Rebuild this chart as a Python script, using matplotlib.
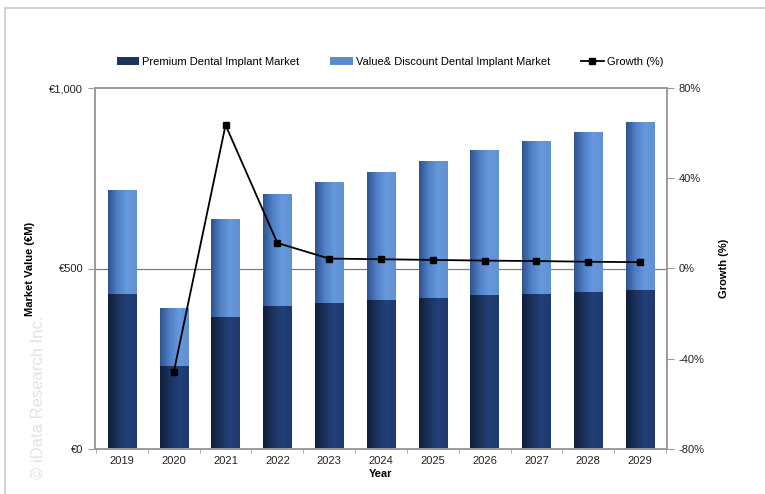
import matplotlib
matplotlib.use('Agg')
import matplotlib.pyplot as plt
import numpy as np
from matplotlib.colors import LinearSegmentedColormap
from matplotlib.ticker import FuncFormatter

# ── Data ──────────────────────────────────────────────────────────────────────
years = ['2019', '2020', '2021', '2022', '2023', '2024', '2025', '2026', '2027', '2028', '2029']
premium = [429, 230, 366, 396, 404, 413, 418, 426, 430, 435, 440]
value_discount = [288, 158, 271, 310, 333, 354, 377, 399, 423, 443, 463]
growth = [None, -45.9, 63.6, 11.3, 4.4, 4.1, 3.8, 3.5, 3.3, 3.0, 2.8]

DARK = '#1c3560'
LIGHT = '#5a8ad0'
GRAY = '#9a9a9a'

# horizontal shading inside each bar, darker on the left edge
DARK_CMAP = LinearSegmentedColormap.from_list('dk', ['#101f3a', '#1b325c', '#22407a', '#1e3a6c'])
LIGHT_CMAP = LinearSegmentedColormap.from_list('lt', ['#2e5390', '#5080c6', '#6799dd', '#5f90d2'])

plt.rcParams['font.family'] = ['Liberation Sans', 'DejaVu Sans']

fig = plt.figure(figsize=(7.65, 4.94), dpi=100)
ax = fig.add_axes([95 / 765, 1 - 449 / 494, (667 - 95) / 765, (449 - 88) / 494])

x = np.arange(len(years))
w = 0.55
b1 = ax.bar(x, premium, w, color=DARK, label='Premium Dental Implant Market', zorder=2)
b2 = ax.bar(x, value_discount, w, bottom=premium, color=LIGHT,
            label='Value& Discount Dental Implant Market', zorder=2)

grad = np.linspace(0, 1, 64).reshape(1, -1)
for bars, cmap in ((b1, DARK_CMAP), (b2, LIGHT_CMAP)):
    for r in bars:
        x0, y0 = r.get_x(), r.get_y()
        ax.imshow(grad, cmap=cmap, aspect='auto', interpolation='bicubic',
                  extent=[x0, x0 + r.get_width(), y0, y0 + r.get_height()], zorder=2.1)

ax.set_xlim(-0.52, len(years) - 0.48)
ax.set_ylim(0, 1000)
ax.set_yticks([0, 500, 1000])
ax.yaxis.set_major_formatter(FuncFormatter(lambda v, p: f'€{v:,.0f}'))
ax.axhline(500, color='#7f7f7f', lw=0.9, zorder=1)
ax.set_xticks(x)
ax.set_xticklabels(years)
ax.set_xticks(np.arange(-0.5, len(years), 1.0), minor=True)
ax.tick_params(axis='x', which='major', length=0, labelsize=8, pad=5, labelcolor='#222222')
ax.tick_params(axis='x', which='minor', length=3, color=GRAY, direction='out')
ax.tick_params(axis='y', labelsize=8, length=5, color=GRAY, labelcolor='#222222')
for s in ax.spines.values():
    s.set_color(GRAY)
    s.set_linewidth(1.2)
ax.set_xlabel('Year', fontsize=8, fontweight='bold', labelpad=2)
ax.set_ylabel('Market Value (€M)', fontsize=8, fontweight='bold', labelpad=10)

ax2 = ax.twinx()
gx = [i for i, g in enumerate(growth) if g is not None]
gy = [g for g in growth if g is not None]
l1, = ax2.plot(gx, gy, color='black', lw=1.3, marker='s', markersize=5,
               label='Growth (%)', zorder=3)
ax2.set_ylim(-80, 80)
ax2.set_yticks([-80, -40, 0, 40, 80])
ax2.yaxis.set_major_formatter(FuncFormatter(lambda v, p: f'{v:.0f}%'))
ax2.tick_params(axis='y', labelsize=8, length=5, color=GRAY, labelcolor='#222222')
for s in ax2.spines.values():
    s.set_color(GRAY)
    s.set_linewidth(1.2)
ax2.set_ylabel('Growth (%)', fontsize=8, fontweight='bold', labelpad=10)

fig.legend(handles=[b1, b2, l1], loc='center', bbox_to_anchor=(390 / 765, 1 - 62 / 494),
           ncol=3, frameon=False, fontsize=8, handlelength=2.0, columnspacing=2.8,
           handletextpad=0.3)

fig.text(38 / 765, 1 - 397 / 494, '© iData Research Inc.', rotation=90, ha='center',
         va='center', fontsize=12, color='#e2e2e2')

# thin frame lines along the top and left edges like the source screenshot
fig.add_artist(plt.Line2D([5 / 765, 5 / 765], [0, 1 - 8 / 494], color='#cccccc', lw=1.2,
                          transform=fig.transFigure))
fig.add_artist(plt.Line2D([5 / 765, 1], [1 - 8 / 494, 1 - 8 / 494], color='#cccccc', lw=1.2,
                          transform=fig.transFigure))

fig.savefig('out.png', dpi=100)
